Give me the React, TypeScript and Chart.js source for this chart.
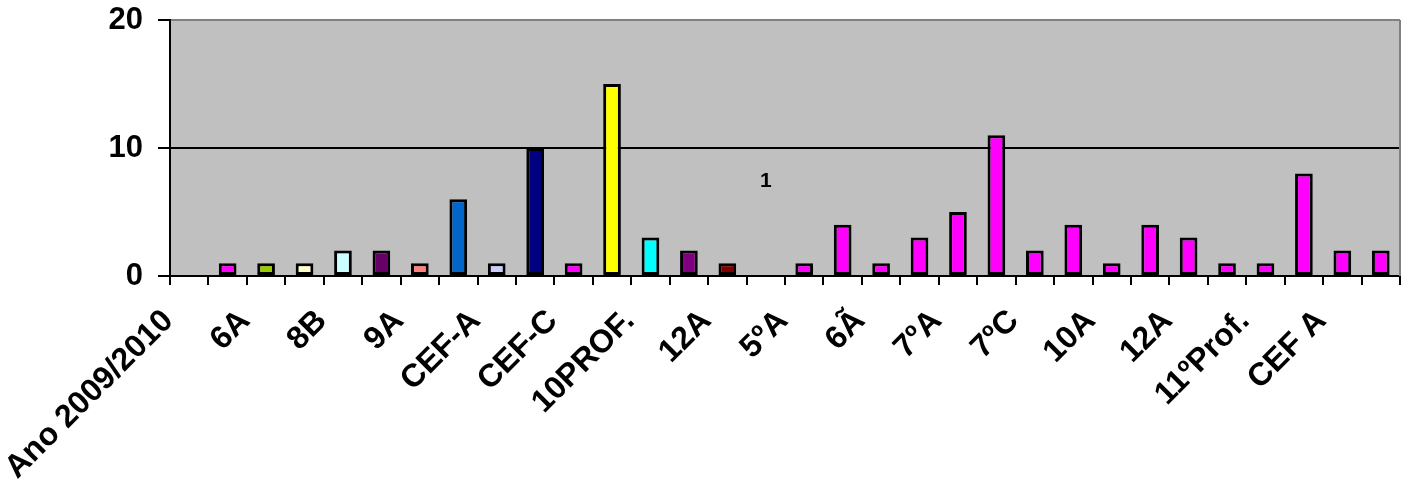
import React, { useEffect, useRef } from "react";
import { Chart, registerables } from "chart.js";

Chart.register(...registerables);

// Categories (odd-indexed labels are hidden in the original chart)
const categories: string[] = [
  "Ano 2009/2010", "", "6A", "", "8B", "", "9A", "", "CEF-A", "", "CEF-C", "",
  "10PROF.", "", "12A", "", "5ºA", "", "6Ã", "", "7ºA", "", "7ºC", "",
  "10A", "", "12A", "", "11ºProf.", "", "CEF A", "",
];

const values: (number | null)[] = [
  null, 1, 1, 1, 2, 2, 1, 6, 1, 10, 1, 15, 3, 2, 1, null,
  1, 4, 1, 3, 5, 11, 2, 4, 1, 4, 3, 1, 1, 8, 2, 2,
];

const barColors: string[] = [
  "#FF00FF", "#FF00FF", "#99CC00", "#FFFFCC", "#CCFFFF", "#660066", "#FF8080", "#0066CC",
  "#CCCCFF", "#000080", "#FF00FF", "#FFFF00", "#00FFFF", "#800080", "#800000", "#FF00FF",
  "#FF00FF", "#FF00FF", "#FF00FF", "#FF00FF", "#FF00FF", "#FF00FF", "#FF00FF", "#FF00FF",
  "#FF00FF", "#FF00FF", "#FF00FF", "#FF00FF", "#FF00FF", "#FF00FF", "#FF00FF", "#FF00FF",
];

const yMin = 0;
const yMax = 20;
const yStep = 10;

// Stray text label inside the plot
const noteIndex = 15;
const noteValue = 7.4;
const noteText = "1";

const FONT = "'Liberation Sans', Arial, sans-serif";

export default function App() {
  const ref = useRef<HTMLCanvasElement | null>(null);

  useEffect(() => {
    document.body.style.margin = "0";
    const canvas = ref.current;
    if (!canvas) return;

    const bgPlugin = {
      id: "bgPlugin",
      beforeDraw(chart: any) {
        const { ctx, chartArea } = chart;
        ctx.save();
        ctx.fillStyle = "#C0C0C0";
        ctx.fillRect(chartArea.left, chartArea.top, chartArea.right - chartArea.left, chartArea.bottom - chartArea.top);
        ctx.restore();
      },
      beforeDatasetsDraw(chart: any) {
        const { ctx, chartArea } = chart;
        ctx.save();
        ctx.strokeStyle = "#808080";
        ctx.lineWidth = 2;
        ctx.beginPath();
        ctx.moveTo(chartArea.right, chartArea.top);
        ctx.lineTo(chartArea.right, chartArea.bottom);
        ctx.stroke();
        ctx.restore();
      },
      afterDraw(chart: any) {
        const { ctx, chartArea } = chart;
        const xs = chart.scales.x;
        const ys = chart.scales.y;
        ctx.save();
        ctx.fillStyle = "#000";
        ctx.font = `bold 32px ${FONT}`;
        ctx.textAlign = "right";
        ctx.textBaseline = "middle";
        categories.forEach((lab, i) => {
          if (!lab) return;
          const px = xs.getPixelForValue(i);
          ctx.save();
          ctx.translate(px - 21, chartArea.bottom + 40);
          ctx.rotate(-Math.PI / 4);
          ctx.fillText(lab, 0, 0);
          ctx.restore();
        });
        ctx.font = `bold 21px ${FONT}`;
        ctx.textAlign = "center";
        ctx.fillText(noteText, xs.getPixelForValue(noteIndex), ys.getPixelForValue(noteValue));
        ctx.restore();
      },
    };

    const chart = new Chart(canvas, {
      type: "bar",
      data: {
        labels: categories,
        datasets: [
          {
            data: values as any,
            backgroundColor: barColors,
            borderColor: "#000",
            borderWidth: 3,
            borderSkipped: false,
            barPercentage: 0.46,
            categoryPercentage: 1,
          },
        ],
      },
      options: {
        animation: false,
        responsive: false,
        maintainAspectRatio: false,
        devicePixelRatio: 1,
        layout: { padding: { top: 20, right: 10, left: 0, bottom: 0 } },
        plugins: { legend: { display: false }, tooltip: { enabled: false } },
        scales: {
          x: {
            type: "category",
            offset: true,
            grid: {
              offset: true,
              drawOnChartArea: false,
              drawTicks: true,
              tickLength: 9,
              color: "#000",
              lineWidth: 2,
            },
            border: { display: true, color: "#000", width: 2 },
            ticks: { display: false },
            afterFit(scale: any) {
              scale.height = 207;
              scale.paddingLeft = 0;
              scale.paddingRight = 0;
            },
          },
          y: {
            min: yMin,
            max: yMax,
            grid: {
              color: (c: any) => (c.tick && c.tick.value === yMax ? "#808080" : "#000"),
              tickColor: "#000",
              lineWidth: 2,
              tickLength: 12,
            },
            border: { display: true, color: "#000", width: 2 },
            ticks: {
              stepSize: yStep,
              padding: 15,
              color: "#000",
              font: { family: FONT, size: 31, weight: "bold" },
            },
            afterFit(scale: any) {
              scale.width = 170;
              scale.paddingTop = 0;
              scale.paddingBottom = 0;
            },
          },
        },
      },
      plugins: [bgPlugin],
    });

    return () => chart.destroy();
  }, []);

  return <canvas ref={ref} width={1410} height={483} style={{ display: "block" }} />;
}
